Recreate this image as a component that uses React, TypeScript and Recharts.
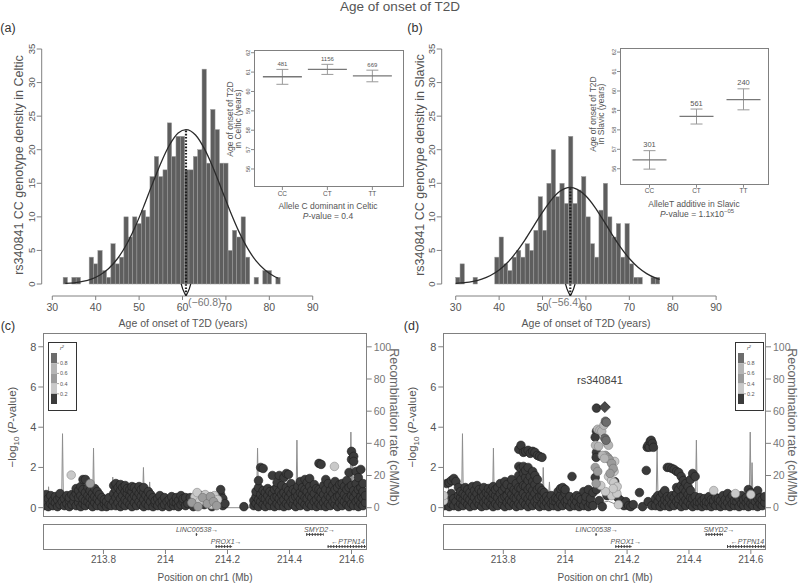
import React from "react";
import {
  ComposedChart,
  Bar,
  Line,
  Scatter,
  XAxis,
  YAxis,
  ReferenceLine,
  ErrorBar,
  Legend,
} from "recharts";

const FONT = "'Liberation Sans', Arial, Helvetica, sans-serif";
const INK = "#555";
const AXIS = "#808080";

// ---------- (a) Celtic histogram, one-year bins ----------
const celticAge = [
  33, 34, 35, 36, 37, 38, 39, 40, 41, 42, 43, 44, 45, 46, 47, 48, 49, 50, 51, 52, 53, 54, 55, 56, 57,
  58, 59, 60, 61, 62, 63, 64, 65, 66, 67, 68, 69, 70, 71, 72, 73, 74, 75, 76, 77, 78, 79, 80, 81, 82,
];
const celticCount = [
  1, 0, 1, 1, 0, 0, 4, 3, 5, 2, 1, 6, 3, 4, 10, 7, 10, 9, 11, 10, 16, 19, 16, 17, 24,
  19, 22, 22, 17, 17, 19, 20, 32, 18, 26, 23, 18, 18, 5, 8, 7, 10, 4, 0, 1, 0, 2, 2, 0, 1,
];
const celticCurveAge = [33, 35, 37, 39, 41, 43, 45, 47, 49, 51, 53, 55, 57, 59, 60.8, 63, 65, 67, 69, 71, 73, 75, 77, 79, 81, 82];
const celticCurveDens = [0.08, 0.18, 0.38, 0.73, 1.34, 2.31, 3.76, 5.77, 8.38, 11.45, 14.8, 18.0, 20.7, 22.5, 23.0, 22.2, 20.2, 17.4, 14.1, 10.8, 7.8, 5.3, 3.4, 2.08, 1.19, 0.88];
const celticMean = 60.8;

// ---------- (b) Slavic histogram ----------
const slavicAge = [
  30.5, 31.5, 32.5, 33.5, 34.5, 35.5, 36.5, 37.5, 38.5, 39.5, 40.5, 41.5, 42.5, 43.5, 44.5, 45.5,
  46.5, 47.5, 48.5, 49.5, 50.5, 51.5, 52.5, 53.5, 54.5, 55.5, 56.5, 57.5, 58.5, 59.5, 60.5, 61.5,
  62.5, 63.5, 64.5, 65.5, 66.5, 67.5, 68.5, 69.5, 70.5, 71.5, 72.5, 73.5, 74.5, 75.5, 76.5,
];
const slavicCount = [
  1, 3, 0, 0, 1, 0, 0, 0, 0, 4, 7, 3, 2, 4, 5, 4,
  6, 5, 8, 13, 8, 15, 20, 13, 15, 12, 22, 12, 14, 16, 10, 6,
  4, 11, 15, 10, 7, 9, 4, 9, 3, 1, 1, 0, 0, 1, 1,
];
const slavicCurveAge = [30, 32, 34, 36, 38, 40, 42, 44, 46, 48, 50, 52, 54, 56.4, 58, 60, 62, 64, 66, 68, 70, 72, 74, 76, 77];
const slavicCurveDens = [0.1, 0.2, 0.39, 0.72, 1.26, 2.08, 3.24, 4.77, 6.62, 8.67, 10.7, 12.5, 13.8, 14.4, 14.1, 13.1, 11.5, 9.5, 7.4, 5.47, 3.8, 2.5, 1.55, 0.91, 0.68];
const slavicMean = 56.4;

const ageTicks = [30, 40, 50, 60, 70, 80, 90];
const densityTicks = [0, 5, 10, 15, 20, 25, 30, 35];
// little marker under the mean (offset in years, depth in counts)
const notchOffset = [-1.1, -0.75, -0.35, 0, 0.35, 0.75, 1.1];
const notchDepth = [0, -0.75, -1.35, -1.75, -1.35, -0.75, 0];

// ---------- insets ----------
const genotypes = ["CC", "CT", "TT"];
const genoPos = [1, 2, 3];
const insetTicks = [56, 57, 58, 59, 60, 61, 62];
const celticGenoMean = [60.76, 61.14, 60.8];
const celticGenoLow = [60.37, 60.88, 60.5];
const celticGenoHigh = [61.14, 61.4, 61.1];
const celticGenoN = [481, 1156, 669];
const slavicGenoMean = [56.46, 58.69, 59.55];
const slavicGenoLow = [55.98, 58.3, 59.03];
const slavicGenoHigh = [56.93, 59.07, 60.11];
const slavicGenoN = [301, 561, 240];

// ---------- (c)/(d) regional plots ----------
const posTicks = [213.8, 214, 214.2, 214.4, 214.6];
const recombProfile: [number, number][] = [
  [213.606, 2], [213.612, 3], [213.62, 1], [213.623, 13], [213.626, 2], [213.636, 1], [213.641, 2],
  [213.644, 8], [213.647, 1], [213.655, 2], [213.665, 1], [213.668, 46], [213.671, 1], [213.69, 2],
  [213.71, 1], [213.73, 2], [213.75, 1], [213.765, 2], [213.768, 37], [213.771, 1], [213.79, 2],
  [213.81, 1], [213.827, 3], [213.83, 19], [213.833, 4], [213.85, 3], [213.87, 4], [213.89, 3],
  [213.91, 5], [213.926, 4], [213.929, 25], [213.932, 5], [213.945, 3], [213.949, 16], [213.953, 2],
  [213.97, 2], [213.99, 3], [214.02, 2], [214.05, 3], [214.08, 4], [214.11, 3], [214.14, 4],
  [214.165, 2], [214.185, 1], [214.19, 0], [214.28, 0], [214.283, 6], [214.288, 9], [214.294, 5],
  [214.297, 37], [214.3, 6], [214.31, 9], [214.33, 5], [214.35, 7], [214.37, 4], [214.39, 6],
  [214.405, 3], [214.421, 5], [214.424, 42], [214.427, 4], [214.44, 3], [214.46, 5], [214.48, 2],
  [214.5, 4], [214.52, 3], [214.54, 5], [214.56, 3], [214.58, 4], [214.595, 3], [214.598, 47],
  [214.601, 4], [214.604, 28], [214.607, 3], [214.62, 5], [214.635, 2], [214.649, 4],
];

type Col = [number, number[]];

// Celtic (c): r2 < 0.2
const cDark: Col[] = [
  [213.608, [0.1, 0.55]], [213.615, [0.3, 0.65]], [213.622, [0.05, 0.45]], [213.63, [0.2, 0.6]],
  [213.637, [0.1, 0.35]], [213.645, [0.25, 0.55]], [213.652, [0.05, 0.4]], [213.66, [0.15, 0.5, 0.7]],
  [213.667, [0.3]], [213.674, [0.1, 0.45]], [213.682, [0.2, 0.6]], [213.69, [0.05, 0.35, 0.5]],
  [213.698, [0.15, 0.65]], [213.705, [0.3, 0.55]], [213.712, [0.1, 0.7, 0.95]], [213.72, [0.25, 0.5, 0.85]],
  [213.727, [0.05, 0.6, 1.05]], [213.734, [0.2, 0.45, 0.9, 1.4]], [213.742, [0.1, 0.35, 0.75, 1.4]],
  [213.75, [0.3, 0.6, 1.0]], [213.757, [0.15, 0.5, 0.85]], [213.765, [0.05, 0.4, 0.7]],
  [213.772, [0.25, 0.55, 0.95]], [213.78, [0.1, 0.45, 0.8]], [213.787, [0.3, 0.65]], [213.795, [0.05, 0.5]],
  [213.803, [0.2, 0.4]], [213.81, [0.05, 0.3]], [213.818, [0.15, 0.5]], [213.825, [0.1]],
  [213.833, [0.3, 0.7, 1.1]], [213.84, [0.1, 0.5, 0.9, 1.2]], [213.847, [0.25, 0.65, 1.0]],
  [213.855, [0.05, 0.45, 0.85, 1.15]], [213.862, [0.2, 0.6, 1.0]], [213.87, [0.1, 0.4, 0.8, 1.1]],
  [213.877, [0.3, 0.7, 0.95]], [213.885, [0.15, 0.55, 0.9]], [213.892, [0.05, 0.45, 0.8, 1.05]],
  [213.9, [0.25, 0.6, 1.0]], [213.907, [0.1, 0.5, 0.85]], [213.915, [0.3, 0.7, 1.05]],
  [213.922, [0.15, 0.55, 0.9]], [213.93, [0.05, 0.4, 0.75, 1.0]], [213.937, [0.2, 0.6]],
  [213.945, [0.1, 0.45, 0.8]], [213.952, [0.3, 0.65]], [213.96, [0.05, 0.5]], [213.967, [0.2, 0.35]],
  [213.975, [0.1, 0.45]], [213.982, [0.25, 0.6]], [213.99, [0.05, 0.35]], [213.997, [0.15, 0.5]],
  [214.005, [0.3]], [214.012, [0.05, 0.4]], [214.02, [0.2, 0.55]], [214.027, [0.1, 0.3]],
  [214.035, [0.25, 0.5]], [214.042, [0.05, 0.35]], [214.05, [0.15, 0.6]], [214.057, [0.3, 0.45]],
  [214.065, [0.1, 0.5]], [214.072, [0.2]], [214.08, [0.5]], [214.09, [0.05]], [214.1, [0.35]],
  [214.115, [0.6]], [214.125, [0.15]], [214.14, [0.4]], [214.15, [0.05]], [214.16, [0.55]],
  [214.17, [0.3]], [214.178, [0.65, 0.9]], [214.185, [0.1, 0.45]], [214.192, [0.2]], [214.253, [0.05]],
  [214.285, [0.1, 0.35]], [214.292, [0.2, 0.55, 0.8]], [214.3, [0.05, 0.4, 1.0, 1.35]],
  [214.307, [0.3, 0.65, 2.0]], [214.315, [0.15, 0.5, 0.85, 1.95]], [214.322, [0.05, 0.45, 0.75]],
  [214.33, [0.25, 0.6, 0.95]], [214.337, [0.1, 0.4, 0.8]], [214.345, [0.3, 0.7, 1.6]],
  [214.352, [0.05, 0.5, 0.9]], [214.36, [0.2, 0.55, 1.0, 1.25]], [214.367, [0.1, 0.45, 0.8, 1.6]],
  [214.375, [0.3, 0.65, 1.1]], [214.382, [0.05, 0.4, 0.75, 1.5]], [214.39, [0.2, 0.6, 1.0, 1.7]],
  [214.397, [0.1, 0.5, 0.85, 1.65]], [214.405, [0.3, 0.7, 1.2]], [214.412, [0.15, 0.45, 0.9]],
  [214.42, [0.05, 0.55, 0.8]], [214.427, [0.25, 0.6, 1.05]], [214.435, [0.1, 0.4, 0.75, 1.3]],
  [214.442, [0.3, 0.65, 1.0]], [214.45, [0.15, 0.5, 0.9, 1.4]], [214.457, [0.05, 0.45, 0.8, 1.25]],
  [214.465, [0.2, 0.6, 1.05, 1.45]], [214.472, [0.1, 0.5, 0.85]], [214.48, [0.3, 0.7, 1.15]],
  [214.487, [0.05, 0.4, 0.95]], [214.495, [0.2, 0.55, 0.9, 2.2]], [214.502, [0.1, 0.45, 0.8, 2.15]],
  [214.51, [0.25, 0.65, 1.1]], [214.517, [0.05, 0.4, 0.9, 1.4]], [214.525, [0.2, 0.6, 1.2]],
  [214.532, [0.1, 0.5, 0.85]], [214.54, [0.3, 0.7, 1.1]], [214.547, [0.15, 0.45, 0.9, 1.3]],
  [214.555, [0.05, 0.55, 1.0]], [214.562, [0.25, 0.6, 1.15]], [214.57, [0.1, 0.4, 0.8, 1.2]],
  [214.577, [0.3, 0.65, 1.05]], [214.585, [0.15, 0.5, 0.9, 1.35]], [214.592, [0.05, 0.45, 1.0, 1.75]],
  [214.6, [0.2, 0.6, 1.1, 2.4, 2.8]], [214.607, [0.1, 0.5, 0.85, 2.55, 2.3]], [214.615, [0.3, 0.7, 1.2, 1.8]],
  [214.622, [0.05, 0.4, 0.9, 1.5]], [214.63, [0.2, 0.55, 1.0, 1.9]], [214.637, [0.1, 0.45, 0.8, 1.2]],
  [214.645, [0.25, 0.6]],
];
const cR2low: Col[] = [
  [214.095, [0.55]], [214.102, [0.75]], [214.11, [0.3]], [214.128, [0.65]], [214.138, [0.45]],
  [214.148, [0.15]], [214.158, [0.6]], [214.168, [0.4]], [213.696, [1.62]], [214.545, [2.05]],
];
const cR2mid: Col[] = [
  [214.085, [0.25]], [214.105, [0.05]], [214.12, [0.5]], [214.135, [0.2]], [214.145, [0.55]],
  [214.155, [0.3]], [214.165, [0.1]], [213.757, [1.2]],
];

// Slavic (d)
const dDark: Col[] = [
  [213.61, [0.1, 0.45]], [213.617, [0.3, 1.2]], [213.625, [0.05, 0.55, 1.25]], [213.632, [0.2, 0.7, 1.35]],
  [213.64, [0.1, 0.45, 1.45]], [213.647, [0.3, 1.3]], [213.655, [0.05, 0.6, 1.0]], [213.662, [0.2, 0.5, 0.8]],
  [213.67, [0.1, 0.4, 0.7]], [213.677, [0.3, 0.6, 1.0]], [213.685, [0.15, 0.5, 0.9]], [213.692, [0.05, 0.4, 0.75]],
  [213.7, [0.25, 0.6, 1.05]], [213.707, [0.1, 0.5, 0.85]], [213.715, [0.3, 0.7, 1.1]], [213.722, [0.15, 0.45, 0.9]],
  [213.73, [0.05, 0.55, 0.8]], [213.737, [0.25, 0.6, 1.0]], [213.745, [0.1, 0.4, 0.75]], [213.752, [0.3, 0.65, 0.95]],
  [213.76, [0.15, 0.5, 0.85]], [213.767, [0.05, 0.45, 0.7, 1.05]], [213.775, [0.2, 0.6, 0.9]],
  [213.782, [0.1, 0.5, 1.0]], [213.79, [0.3, 0.7, 1.2]], [213.797, [0.15, 0.45, 0.85]],
  [213.805, [0.05, 0.55, 1.0, 1.3]], [213.812, [0.25, 0.6, 1.15]], [213.82, [0.1, 0.4, 0.8]],
  [213.827, [0.3, 0.65, 1.05, 1.4]], [213.835, [0.15, 0.5, 0.9]], [213.842, [0.05, 0.45, 0.8, 1.2]],
  [213.85, [0.2, 0.6, 1.0, 1.6, 2.05, 2.9]], [213.857, [0.1, 0.5, 0.95, 1.4, 1.95, 3.1]],
  [213.865, [0.3, 0.7, 1.1, 1.7, 2.05, 2.75]], [213.872, [0.15, 0.55, 1.05, 1.5, 1.85, 2.8]],
  [213.88, [0.05, 0.45, 0.9, 1.35, 2.0, 2.85]], [213.887, [0.25, 0.6, 1.0, 1.55, 2.7]],
  [213.895, [0.1, 0.5, 0.85, 1.3, 1.8, 2.8]], [213.902, [0.3, 0.7, 1.15, 1.6, 2.75]],
  [213.91, [0.15, 0.45, 0.9, 1.4, 2.6]], [213.917, [0.05, 0.55, 1.0, 2.55]], [213.925, [0.2, 0.6, 0.85, 2.5]],
  [213.932, [0.1, 0.4, 0.75]], [213.94, [0.25, 0.55]], [213.947, [0.05, 0.4]], [213.955, [0.2, 0.6]],
  [213.962, [0.1, 0.35]], [213.97, [0.3, 0.5]], [213.977, [0.05, 0.45, 0.8]], [213.985, [0.2, 0.6, 0.95]],
  [213.992, [0.1, 0.5, 1.0]], [214.0, [0.3, 0.7, 0.9]], [214.007, [0.15, 0.4]], [214.015, [0.05, 0.55]],
  [214.022, [0.25, 1.55]], [214.03, [0.1, 0.45]], [214.037, [0.3, 0.6]], [214.045, [0.05, 0.5]],
  [214.052, [0.2, 0.4]], [214.06, [0.1, 0.8]], [214.067, [0.3, 0.55]], [214.075, [0.05, 0.9]],
  [214.082, [0.2, 0.45]], [214.09, [0.1, 0.75]], [214.101, [4.95, 3.8, 2.75, 0.9]], [214.097, [3.5, 1.5]],
  [214.1, [2.5]], [214.11, [0.35]], [214.12, [0.05]], [214.135, [0.6]], [214.16, [1.3]], [214.165, [1.05]],
  [214.17, [0.5]], [214.175, [0.2]], [214.18, [0.35]], [214.19, [0.1]], [214.196, [0.3]],
  [214.205, [0.1]], [214.212, [0.05]], [214.22, [0.15]], [214.24, [0.75]], [214.25, [0.05]],
  [214.262, [1.85]], [214.265, [3.0]], [214.268, [3.1, 0.3]], [214.272, [3.0]], [214.275, [3.3]],
  [214.278, [3.35]], [214.282, [3.2]], [214.285, [3.0]], [214.28, [0.1]],
  [214.292, [0.1, 0.45]], [214.3, [0.3, 0.6]], [214.307, [0.05, 0.5]], [214.315, [0.2, 0.7]],
  [214.322, [0.1, 0.4, 0.85]], [214.33, [0.25, 0.55, 2.0]], [214.337, [0.05, 0.45, 2.0]],
  [214.345, [0.2, 0.6, 1.95]], [214.352, [0.1, 0.5, 1.9]], [214.36, [0.3, 0.7, 1.0, 1.8]],
  [214.367, [0.15, 0.45, 0.9, 1.75]], [214.375, [0.05, 0.55, 1.1, 1.55]], [214.382, [0.25, 0.6, 0.95, 1.35]],
  [214.39, [0.1, 0.4, 0.8, 1.2]], [214.397, [0.3, 0.65, 1.05]], [214.405, [0.15, 0.5, 0.85, 1.4]],
  [214.412, [0.05, 0.45, 1.7]], [214.42, [0.2, 0.55, 1.55]], [214.427, [0.1, 0.3]], [214.435, [0.25, 0.5]],
  [214.442, [0.05, 0.35]], [214.45, [0.2, 0.45]], [214.457, [0.1, 0.3]], [214.465, [0.25, 0.55]],
  [214.472, [0.05, 0.4]], [214.48, [0.2, 0.35]], [214.487, [0.1, 0.5]], [214.495, [0.3, 0.45]],
  [214.502, [0.05, 0.35]], [214.51, [0.2, 0.6]], [214.517, [0.1, 0.4]], [214.525, [0.25, 0.7]],
  [214.532, [0.05, 0.45]], [214.54, [0.2, 0.6]], [214.547, [0.1, 0.35]], [214.555, [0.3, 0.55]],
  [214.562, [0.05, 0.45]], [214.57, [0.2, 0.6]], [214.577, [0.1, 0.4]], [214.585, [0.25, 0.5]],
  [214.592, [0.05, 0.35, 0.9]], [214.6, [0.2, 0.55, 0.75]], [214.607, [0.1, 0.4]], [214.615, [0.3, 0.6]],
  [214.622, [0.05, 0.45, 0.85]], [214.63, [0.2, 0.5]], [214.637, [0.1, 0.4]], [214.645, [0.25, 0.55]],
];
const dR2low: Col[] = [
  [213.607, [0.35, 0.6]], [214.14, [1.55]], [214.15, [1.35, 0.6]], [214.157, [1.25]], [214.16, [2.3]],
  [214.158, [1.8]], [214.163, [0.85]], [214.167, [0.7]], [214.168, [1.05]], [214.155, [0.95]],
  [214.172, [0.15]], [214.13, [0.8]], [214.115, [1.1]], [214.48, [0.85]], [214.55, [0.7]], [214.6, [0.65]],
];
const dR2mid: Col[] = [
  [214.13, [2.6]], [214.137, [2.5]], [214.142, [2.4]], [214.15, [2.2]], [214.155, [1.95]],
  [214.145, [1.7]], [214.097, [2.0]], [214.105, [1.8]], [214.1, [1.2]],
];
const dR2high: Col[] = [
  [214.105, [3.9]], [214.112, [3.85]], [214.118, [3.8]], [214.125, [4.1]], [214.098, [3.1]],
  [214.108, [3.05]], [214.135, [3.2]], [214.14, [3.1]], [214.12, [2.6]], [214.127, [2.45]],
];
const dR2top: Col[] = [[214.13, [4.3]], [214.133, [4.25]], [214.128, [3.45]], [214.132, [3.35]]];
const dLead = { x: 214.128, y: 5.0 };

// r2 classes, drawn in this order: <0.2, 0.2-0.4, 0.4-0.6, 0.6-0.8, >=0.8
const r2Fill = ["#3b3b3b", "#c9c9c9", "#9b9b9b", "#b5b5b5", "#6c6c6c"];
const r2Stroke = ["#1f1f1f", "#8c8c8c", "#707070", "#868686", "#444"];
const r2Labels = ["0.8", "0.6", "0.4", "0.2"];

// gene track
const geneNames = ["LINC00538", "SMYD2", "PROX1", "PTPN14"];
const geneText = ["LINC00538\u2192", "SMYD2\u2192", "PROX1\u2192", "\u2190PTPN14"];
const geneStart = [214.098, 214.454, 214.162, 214.523];
const geneEnd = [214.103, 214.51, 214.215, 214.724];
const geneRow = [0.6, 0.6, 0.13, 0.13];
const geneLabelPos = [214.102, 214.497, 214.196, 214.589];
const geneLabelRow = [0.78, 0.78, 0.31, 0.31];

const expand = (cols: Col[]) => cols.flatMap(([x, ys]) => ys.map((y) => ({ x, y })));

function Txt({ x, y, size, rot = 0, color = INK, anchor = "middle", italic = false, children }: any) {
  const tx = anchor === "start" ? "0" : "-50%";
  return (
    <div
      style={{
        position: "absolute",
        left: x,
        top: y,
        transform: `translate(${tx}, -50%) rotate(${rot}deg)`,
        fontSize: size,
        lineHeight: 1,
        color,
        fontFamily: FONT,
        fontStyle: italic ? "italic" : "normal",
        whiteSpace: "nowrap",
      }}
    >
      {children}
    </div>
  );
}

function Box({ x, y, w, h, color = AXIS }: any) {
  return (
    <div
      style={{
        position: "absolute",
        left: x,
        top: y,
        width: w,
        height: h,
        border: `1px solid ${color}`,
        boxSizing: "border-box",
        pointerEvents: "none",
      }}
    />
  );
}

function RotTick(props: any) {
  const { x, y, payload, size } = props;
  return (
    <text x={x} y={y} transform={`rotate(-90 ${x} ${y})`} textAnchor="middle" fontSize={size} fill={INK} fontFamily={FONT}>
      {payload.value}
    </text>
  );
}

// one-year bar, centred on the slot Recharts gives it
const BIN_PX = 4.34;
const binShape = (p: any) => {
  if (!p.height || p.height <= 0) return <g />;
  const cx = p.x + p.width / 2;
  return <rect x={cx - BIN_PX / 2} y={p.y} width={BIN_PX} height={p.height} fill="#5e5e5e" stroke="#9d9d9d" strokeWidth={0.5} />;
};

function Histogram({ left, ages, counts, curveAge, curveDens, mean, peak, xMin, marginRight }: any) {
  const bins = ages.map((x: number, i: number) => ({ x, count: counts[i] }));
  const curve = curveAge.map((x: number, i: number) => ({ x, dens: curveDens[i] }));
  const notch = notchOffset.map((o, i) => ({ x: mean + o, v: notchDepth[i] }));
  return (
    <div style={{ position: "absolute", left, top: 0 }}>
      <ComposedChart width={400} height={330} data={bins} margin={{ top: 49, right: marginRight, bottom: 4, left: 11.7 }}>
        <XAxis
          type="number"
          dataKey="x"
          domain={[xMin, 92]}
          allowDataOverflow
          ticks={ageTicks}
          interval={0}
          height={30}
          axisLine={false}
          tickSize={4}
          tickMargin={4}
          tickLine={{ stroke: AXIS }}
          tick={{ fontSize: 10.5, fill: INK, fontFamily: FONT }}
        />
        <YAxis
          type="number"
          domain={[-1.786, 35]}
          allowDataOverflow
          ticks={densityTicks}
          interval={0}
          width={30}
          axisLine={false}
          tickSize={5}
          tickLine={{ stroke: AXIS }}
          tick={(p: any) => <RotTick {...p} size={9.5} />}
        />
        <ReferenceLine segment={[{ x: 30, y: -1.786 }, { x: 90, y: -1.786 }]} stroke={AXIS} ifOverflow="visible" />
        <ReferenceLine segment={[{ x: xMin, y: 0 }, { x: xMin, y: 35 }]} stroke={AXIS} ifOverflow="visible" />
        <Bar dataKey="count" barSize={4} shape={binShape} isAnimationActive={false} />
        <Line data={curve} dataKey="dens" type="monotone" stroke="#2b2b2b" strokeWidth={1.3} dot={false} isAnimationActive={false} />
        <ReferenceLine
          segment={[{ x: mean, y: -1.7 }, { x: mean, y: peak }]}
          stroke="#1e1e1e"
          strokeWidth={2.2}
          strokeDasharray="1.6 1.6"
          ifOverflow="visible"
        />
        <Line data={notch} dataKey="v" type="linear" stroke="#1e1e1e" strokeWidth={1.2} dot={false} isAnimationActive={false} />
      </ComposedChart>
    </div>
  );
}

function Inset({ boxX, boxY, boxW, boxH, xDomain, yDomain, means, lows, highs, ns, halfW, nSize }: any) {
  const padL = 22;
  const padT = 12;
  const padB = 18;
  const padR = 4;
  const pts = genoPos.map((x, i) => ({ x, y: means[i], err: [means[i] - lows[i], highs[i] - means[i]] }));
  const tops = genoPos.map((x, i) => ({ x, y: highs[i], n: ns[i] }));
  const meanShape = (p: any) => (
    <line x1={p.cx - halfW} x2={p.cx + halfW} y1={p.cy} y2={p.cy} stroke="#777" strokeWidth={1.3} />
  );
  const countShape = (p: any) => (
    <text x={p.cx} y={p.cy - 3.5} textAnchor="middle" fontSize={nSize} fill={INK} fontFamily={FONT}>
      {p.payload.n}
    </text>
  );
  return (
    <div style={{ position: "absolute", left: boxX - padL, top: boxY - padT }}>
      <ComposedChart
        width={boxW + padL + padR}
        height={boxH + padT + padB}
        margin={{ top: padT, left: padL - 14, right: padR, bottom: padB - 12 }}
      >
        <XAxis
          type="number"
          dataKey="x"
          domain={xDomain}
          allowDataOverflow
          ticks={genoPos}
          interval={0}
          height={12}
          axisLine={false}
          tickSize={3}
          tickMargin={1}
          tickLine={{ stroke: "#888" }}
          tick={{ fontSize: 6.5, fill: INK, fontFamily: FONT }}
          tickFormatter={(v: number) => genotypes[v - 1]}
        />
        <YAxis
          type="number"
          dataKey="y"
          domain={yDomain}
          allowDataOverflow
          ticks={insetTicks}
          interval={0}
          width={14}
          axisLine={false}
          tickSize={3}
          tickMargin={1}
          tickLine={{ stroke: "#888" }}
          tick={(p: any) => <RotTick {...p} size={5.5} />}
        />
        <Scatter data={pts} dataKey="y" shape={meanShape} isAnimationActive={false}>
          <ErrorBar dataKey="err" direction="y" width={6} stroke="#999" strokeWidth={1} />
        </Scatter>
        <Scatter data={tops} dataKey="y" shape={countShape} isAnimationActive={false} />
      </ComposedChart>
    </div>
  );
}

function R2Legend() {
  return (
    <svg width={29} height={69} style={{ display: "block" }}>
      <rect x={0.5} y={0.5} width={28} height={68} fill="#fff" stroke="#333" />
      <text x={12} y={8} fontSize={5.5} fontStyle="italic" fill="#444" fontFamily={FONT}>
        r<tspan dy={-2} fontSize={4}>2</tspan>
      </text>
      {[4, 3, 2, 1, 0].map((c, i) => (
        <rect key={c} x={3} y={11 + i * 10.2} width={6} height={10.2} fill={r2Fill[c]} />
      ))}
      {r2Labels.map((l, i) => (
        <g key={l}>
          <line x1={9} x2={11} y1={21.2 + i * 10.2} y2={21.2 + i * 10.2} stroke="#666" strokeWidth={0.6} />
          <text x={12} y={23.2 + i * 10.2} fontSize={5.5} fill="#555" fontFamily={FONT}>
            {l}
          </text>
        </g>
      ))}
    </svg>
  );
}

const dotShape = (fill: string, stroke: string) => (p: any) =>
  <circle cx={p.cx} cy={p.cy} r={4.3} fill={fill} stroke={stroke} strokeWidth={0.6} />;

const diamondShape = (p: any) => (
  <path
    d={`M${p.cx},${p.cy - 5.5} L${p.cx + 5.5},${p.cy} L${p.cx},${p.cy + 5.5} L${p.cx - 5.5},${p.cy} Z`}
    fill="#4a4a4a"
    stroke="#1e1e1e"
    strokeWidth={0.7}
  />
);

function Locus({ left, classes, lead, legendX, marginRight }: any) {
  const recomb = recombProfile.map(([x, rate]) => ({ x, rate }));
  return (
    <div style={{ position: "absolute", left, top: 330 }}>
      <ComposedChart width={400} height={195} margin={{ top: 3.3, right: marginRight, bottom: 8.3, left: 13.3 }}>
        <XAxis type="number" dataKey="x" domain={[213.606, 214.649]} allowDataOverflow hide />
        <YAxis
          yAxisId="l"
          type="number"
          dataKey="y"
          domain={[-0.45, 8.67]}
          allowDataOverflow
          ticks={[0, 2, 4, 6, 8]}
          interval={0}
          width={30}
          axisLine={false}
          tickSize={5}
          tickLine={{ stroke: AXIS }}
          tick={{ fontSize: 11, fill: INK, fontFamily: FONT }}
        />
        <YAxis
          yAxisId="r"
          orientation="right"
          type="number"
          domain={[-5.6, 108.4]}
          allowDataOverflow
          ticks={[0, 20, 40, 60, 80, 100]}
          interval={0}
          width={30}
          axisLine={false}
          tickSize={5}
          tickLine={{ stroke: AXIS }}
          tick={{ fontSize: 10.5, fill: "#777", fontFamily: FONT }}
        />
        <Line yAxisId="r" data={recomb} dataKey="rate" type="linear" stroke="#8e8e8e" strokeWidth={1} dot={false} isAnimationActive={false} />
        {classes.map((cols: Col[], k: number) =>
          cols.length ? (
            <Scatter
              key={k}
              yAxisId="l"
              data={expand(cols)}
              dataKey="y"
              shape={dotShape(r2Fill[k], r2Stroke[k])}
              isAnimationActive={false}
            />
          ) : null
        )}
        {lead ? <Scatter yAxisId="l" data={[lead]} dataKey="y" shape={diamondShape} isAnimationActive={false} /> : null}
        <Legend
          content={() => <R2Legend />}
          layout="horizontal"
          verticalAlign="middle"
          align="center"
          wrapperStyle={{ left: legendX, top: 12.3, width: 29, height: 69 }}
        />
      </ComposedChart>
    </div>
  );
}

function GeneTrack({ left, marginRight }: any) {
  const labels = geneNames.map((n, i) => ({ x: geneLabelPos[i], y: geneLabelRow[i], name: geneText[i] }));
  const labelShape = (p: any) => (
    <text x={p.cx} y={p.cy} textAnchor="middle" dominantBaseline="central" fontSize={7} fontStyle="italic" fill={INK} fontFamily={FONT}>
      {p.payload.name}
    </text>
  );
  return (
    <div style={{ position: "absolute", left, top: 520 }}>
      <ComposedChart width={400} height={64} margin={{ top: 4, right: marginRight, bottom: 14, left: 43.3 }}>
        <XAxis
          type="number"
          dataKey="x"
          domain={[213.606, 214.649]}
          allowDataOverflow
          ticks={posTicks}
          interval={0}
          height={20}
          axisLine={false}
          tickSize={4}
          tickLine={{ stroke: AXIS }}
          tick={{ fontSize: 10, fill: INK, fontFamily: FONT }}
        />
        <YAxis type="number" dataKey="y" domain={[0, 1]} allowDataOverflow hide />
        {geneNames.map((g, i) => (
          <ReferenceLine
            key={g}
            segment={[{ x: geneStart[i], y: geneRow[i] }, { x: geneEnd[i], y: geneRow[i] }]}
            stroke="#555"
            strokeWidth={1}
            ifOverflow="hidden"
          />
        ))}
        {geneNames.map((g, i) => (
          <ReferenceLine
            key={g + "x"}
            segment={[{ x: geneStart[i], y: geneRow[i] }, { x: geneEnd[i], y: geneRow[i] }]}
            stroke="#444"
            strokeWidth={3}
            strokeDasharray="1 1.8"
            ifOverflow="hidden"
          />
        ))}
        <Scatter data={labels} dataKey="y" shape={labelShape} isAnimationActive={false} />
      </ComposedChart>
    </div>
  );
}

const logLabel = (
  <span>
    {"\u2212log"}
    <sub style={{ fontSize: "0.7em" }}>10</sub> (<i>P</i>-value)
  </span>
);

export default function App() {
  return (
    <div
      style={{
        position: "absolute",
        left: 0,
        top: 0,
        width: 800,
        height: 584,
        background: "#fff",
        fontFamily: FONT,
        overflow: "hidden",
      }}
    >
      <Histogram
        left={0}
        ages={celticAge}
        counts={celticCount}
        curveAge={celticCurveAge}
        curveDens={celticCurveDens}
        mean={celticMean}
        peak={22.9}
        xMin={27.56}
        marginRight={78.6}
      />
      <Histogram
        left={400}
        ages={slavicAge}
        counts={slavicCount}
        curveAge={slavicCurveAge}
        curveDens={slavicCurveDens}
        mean={slavicMean}
        peak={14.4}
        xMin={26.77}
        marginRight={75.2}
      />
      <Inset
        boxX={254.3}
        boxY={50}
        boxW={149.7}
        boxH={137}
        xDomain={[0.369, 3.696]}
        yDomain={[55.07, 62.14]}
        means={celticGenoMean}
        lows={celticGenoLow}
        highs={celticGenoHigh}
        ns={celticGenoN}
        halfW={19.5}
        nSize={6}
      />
      <Inset
        boxX={620}
        boxY={48.3}
        boxW={149.3}
        boxH={136.7}
        xDomain={[0.372, 3.549]}
        yDomain={[55.18, 62.21]}
        means={slavicGenoMean}
        lows={slavicGenoLow}
        highs={slavicGenoHigh}
        ns={slavicGenoN}
        halfW={17}
        nSize={7.5}
      />
      <Box x={254.3} y={50} w={149.7} h={137} />
      <Box x={620} y={48.3} w={149.3} h={136.7} />

      <Locus left={0} classes={[cDark, cR2low, cR2mid, [], []]} lead={null} legendX={48.3} marginRight={3.3} />
      <Locus left={400} classes={[dDark, dR2low, dR2mid, dR2high, dR2top]} lead={dLead} legendX={335} marginRight={4} />
      <Box x={43.3} y={333.3} w={323.4} h={183.4} />
      <Box x={443.3} y={333.3} w={322.7} h={183.4} />
      <GeneTrack left={0} marginRight={33.3} />
      <GeneTrack left={400} marginRight={34} />
      <Box x={43.3} y={524} w={323.4} h={26} />
      <Box x={443.3} y={524} w={322.7} h={26} />

      <Txt x={400} y={7} size={13.5}>Age of onset of T2D</Txt>
      <Txt x={8} y={27.5} size={12.5} color="#333">(a)</Txt>
      <Txt x={415} y={27.5} size={12.5} color="#333">(b)</Txt>
      <Txt x={8} y={326} size={12.5} color="#333">(c)</Txt>
      <Txt x={411.5} y={326} size={12.5} color="#333">(d)</Txt>

      <Txt x={18.5} y={165} size={12.5} rot={-90}>rs340841 CC genotype density in Celtic</Txt>
      <Txt x={420} y={165} size={12.5} rot={-90}>rs340841 CC genotype density in Slavic</Txt>
      <Txt x={183} y={322.5} size={10.5}>Age of onset of T2D (years)</Txt>
      <Txt x={586} y={322.5} size={10.5}>Age of onset of T2D (years)</Txt>
      <Txt x={188} y={302} size={10.5} color="#777" anchor="start">(−60.8)</Txt>
      <Txt x={548} y={302} size={10.5} color="#777" anchor="start">(−56.4)</Txt>

      <Txt x={229.5} y={118.5} size={8.5} rot={-90}>Age of onset of T2D</Txt>
      <Txt x={237.5} y={118.5} size={8.5} rot={-90}>in Celtic (years)</Txt>
      <Txt x={328} y={205.7} size={8.5}>Allele C dominant in Celtic</Txt>
      <Txt x={328} y={215.7} size={8.5}>
        <i>P</i>-value = 0.4
      </Txt>
      <Txt x={593} y={114} size={8.5} rot={-90}>Age of onset of T2D</Txt>
      <Txt x={601} y={114} size={8.5} rot={-90}>in Slavic (years)</Txt>
      <Txt x={694} y={204} size={8.5}>AlleleT additive in Slavic</Txt>
      <Txt x={697} y={214} size={8.5}>
        <i>P</i>-value = 1.1x10<sup style={{ fontSize: "0.7em" }}>{"\u221205"}</sup>
      </Txt>

      <Txt x={14} y={427} size={11.5} rot={-90}>{logLabel}</Txt>
      <Txt x={414} y={427} size={11.5} rot={-90}>{logLabel}</Txt>
      <Txt x={394} y={427} size={12.5} rot={90} color="#666">Recombination rate (cM/Mb)</Txt>
      <Txt x={792} y={427} size={12.5} rot={90} color="#666">Recombination rate (cM/Mb)</Txt>
      <Txt x={205} y={577.5} size={10}>Position on chr1 (Mb)</Txt>
      <Txt x={605} y={577.5} size={10}>Position on chr1 (Mb)</Txt>
      <Txt x={600} y={380} size={11} color="#444">rs340841</Txt>
    </div>
  );
}
